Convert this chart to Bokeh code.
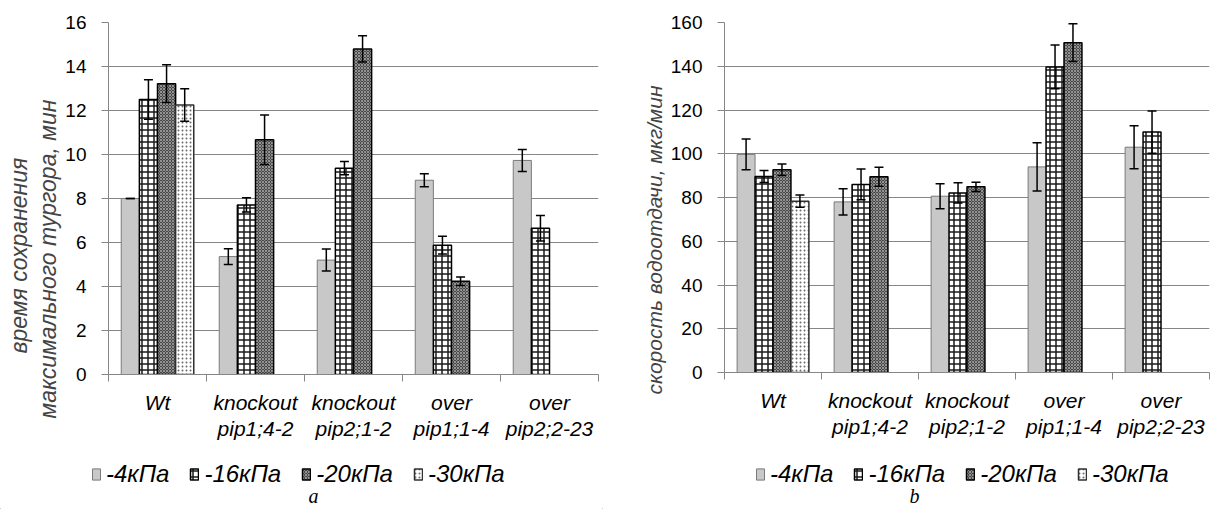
from bokeh.plotting import figure
from bokeh.models import (ColumnDataSource, Range1d, LinearAxis, FixedTicker,
                          SingleIntervalTicker, Whisker, TeeHead, Legend, LegendItem,
                          CustomJSTickFormatter, Title, Label)
from bokeh.layouts import row, column
from bokeh.embed import file_html
from bokeh.resources import INLINE

# ---------------- data ----------------
categories = ["Wt", "knockout pip1;4-2", "knockout pip2;1-2", "over pip1;1-4", "over pip2;2-23"]
category_line1 = ["Wt", "knockout", "knockout", "over", "over"]
category_line2 = ["", "pip1;4-2", "pip2;1-2", "pip1;1-4", "pip2;2-23"]
series_names = ["-4кПа", "-16кПа", "-20кПа", "-30кПа"]

# chart a: время сохранения максимального тургора, мин
a_4 = [8.0, 5.36, 5.2, 8.83, 9.73]
a_4_err = [0.0, 0.36, 0.5, 0.3, 0.5]
a_16 = [12.5, 7.71, 9.38, 5.88, 6.65]
a_16_err = [0.9, 0.32, 0.3, 0.4, 0.58]
a_20 = [13.22, 10.67, 14.8, 4.24, None]
a_20_err = [0.86, 1.12, 0.6, 0.19, None]
a_30 = [12.25, None, None, None, None]
a_30_err = [0.74, None, None, None, None]
a_title = ["максимального тургора, мин", "время сохранения"]   # inner line first

# chart b: скорость водоотдачи, мкг/мин
b_4 = [99.7, 78.0, 80.6, 94.0, 103.0]
b_4_err = [7.0, 6.0, 5.7, 11.0, 9.8]
b_16 = [89.6, 86.0, 82.1, 139.7, 109.9]
b_16_err = [2.7, 7.0, 4.6, 10.0, 9.7]
b_20 = [92.7, 89.5, 84.9, 150.8, None]
b_20_err = [2.6, 4.3, 2.1, 8.6, None]
b_30 = [78.3, None, None, None, None]
b_30_err = [2.8, None, None, None, None]
b_title = ["скорость водоотдачи, мкг/мин"]

# ---------------- styles ----------------
offsets = [-0.2775, -0.0925, 0.0925, 0.2775]
bar_w = 0.185
styles = [
    dict(fill_color="#c8c8c8", line_color="#7a7a7a", line_width=1),
    dict(fill_color="white", line_color="black", line_width=1.5,
         hatch_pattern="cross", hatch_color="#1a1a1a", hatch_scale=6, hatch_weight=1.5),
    dict(fill_color="#474747", line_color="black", line_width=1.5,
         hatch_pattern="diagonal_cross", hatch_color="#9c9c9c", hatch_scale=3, hatch_weight=0.9),
    dict(fill_color="white", line_color="#303030", line_width=1.5,
         hatch_pattern="dot", hatch_color="#6a6a6a", hatch_scale=4, hatch_weight=1),
]
GRAY = "#868686"
FONT = "Liberation Sans"


def label_axis(labels, ticks, standoff):
    ax = LinearAxis(ticker=FixedTicker(ticks=ticks))
    ax.formatter = CustomJSTickFormatter(args=dict(labels=labels),
                                         code="return labels[Math.floor(tick)] || '';")
    ax.axis_line_color = None
    ax.major_tick_line_color = None
    ax.minor_tick_line_color = None
    ax.major_tick_out = 0
    ax.major_tick_in = 0
    ax.major_label_text_font = FONT
    ax.major_label_text_font_style = "italic"
    ax.major_label_text_font_size = "21px"
    ax.major_label_text_color = "black"
    ax.major_label_standoff = standoff
    return ax


def make_chart(values, errors, y_end, interval, ytitles, title_offsets, title_size,
               border_left, frame_w, frame_h, border_top, border_right, border_bottom):
    n = len(categories)
    p = figure(x_range=Range1d(0, n), y_range=Range1d(0, y_end),
               frame_width=frame_w, frame_height=frame_h,
               min_border_left=border_left, min_border_right=border_right,
               min_border_top=border_top, min_border_bottom=border_bottom,
               x_axis_location=None, output_backend="svg", toolbar_location=None)
    p.outline_line_color = None
    p.background_fill_color = "white"
    p.border_fill_color = "white"
    for g in p.grid:
        if g.dimension == 0:
            g.visible = False

    ya = p.yaxis[0]
    ya.ticker = SingleIntervalTicker(interval=interval)
    ya.axis_line_color = GRAY
    ya.major_tick_line_color = GRAY
    ya.major_tick_in = 0
    ya.major_tick_out = 7
    ya.minor_tick_line_color = None
    ya.major_label_text_font = FONT
    ya.major_label_text_font_size = "19px"
    ya.major_label_text_color = "black"
    ya.major_label_standoff = 15
    p.ygrid.grid_line_color = GRAY
    p.ygrid.grid_line_width = 1
    p.ygrid.ticker = ya.ticker

    for j, (t, off) in enumerate(zip(ytitles, title_offsets)):
        p.add_layout(Title(text=t, align="left", offset=off,
                           text_font=FONT, text_font_style="italic",
                           text_font_size=title_size, standoff=3 if j == 0 else 0), "left")

    nax = LinearAxis(ticker=FixedTicker(ticks=list(range(n + 1))))
    nax.axis_line_color = GRAY
    nax.major_tick_line_color = GRAY
    nax.major_tick_in = 0
    nax.major_tick_out = 7
    nax.minor_tick_line_color = None
    nax.formatter = CustomJSTickFormatter(code="return '';")
    nax.major_label_standoff = 0
    nax.major_label_text_font_size = "1px"
    p.add_layout(nax, "below")

    centers = [i + 0.5 for i in range(n)]
    p.add_layout(label_axis(category_line1, centers, 9), "below")
    p.add_layout(label_axis(category_line2, centers, 0), "below")

    for k, (vals, errs) in enumerate(zip(values, errors)):
        xs = [c + offsets[k] for c, v in zip(centers, vals) if v is not None]
        tops = [v for v in vals if v is not None]
        es = [e for v, e in zip(vals, errs) if v is not None]
        src = ColumnDataSource(dict(x=xs, top=tops,
                                    upper=[t + e for t, e in zip(tops, es)],
                                    lower=[t - e for t, e in zip(tops, es)]))
        p.vbar(x="x", top="top", bottom=0, width=bar_w, source=src, **styles[k])
        w = Whisker(base="x", upper="upper", lower="lower", source=src,
                    line_color="black", line_width=1.5,
                    upper_head=TeeHead(size=9, line_color="black", line_width=1.5),
                    lower_head=TeeHead(size=9, line_color="black", line_width=1.5),
                    level="overlay")
        p.add_layout(w)
    return p


def make_legend(width, height, legend_pos, caption, caption_pos):
    q = figure(width=width, height=height, x_range=Range1d(0, width),
               y_range=Range1d(0, height), min_border=0,
               x_axis_location=None, y_axis_location=None,
               output_backend="svg", toolbar_location=None)
    q.outline_line_color = None
    q.background_fill_color = "white"
    q.border_fill_color = "white"
    for g in q.grid:
        g.visible = False
    items = []
    for k, name in enumerate(series_names):
        # legend proxy: one hidden bar kept outside the visible range
        proxy = ColumnDataSource(dict(x=[-100], top=[-100]))
        r = q.vbar(x="x", top="top", bottom=-100, width=1, source=proxy, **styles[k])
        items.append(LegendItem(label=name, renderers=[r], index=0))
    legend = Legend(items=items, orientation="horizontal", location=legend_pos,
                    label_text_font=FONT, label_text_font_style="italic",
                    label_text_font_size="24px", label_text_color="black",
                    glyph_width=10, glyph_height=14, label_standoff=5, spacing=20,
                    padding=0, margin=0, border_line_color=None,
                    background_fill_color=None)
    q.add_layout(legend)
    q.add_layout(Label(x=caption_pos[0], y=caption_pos[1], text=caption,
                       text_align="center", text_baseline="middle",
                       text_font="Liberation Serif", text_font_style="italic",
                       text_font_size="20px", text_color="black"))
    return q


pa = make_chart([a_4, a_16, a_20, a_30], [a_4_err, a_16_err, a_20_err, a_30_err],
                16, 2, a_title, [-44, 21], "23px", 108, 490, 352, 20, 4, 70)
pb = make_chart([b_4, b_16, b_20, b_30], [b_4_err, b_16_err, b_20_err, b_30_err],
                160, 20, b_title, [-22], "21px", 122, 485, 350, 22, 1, 72)

la = make_legend(602, 65, (91, 21), "a", (313, 14))
lb = make_legend(608, 65, (153, 21), "b", (312, 14))

layout = column(row(pa, pb), row(la, lb))
open("out.html", "w").write(file_html(layout, INLINE))
